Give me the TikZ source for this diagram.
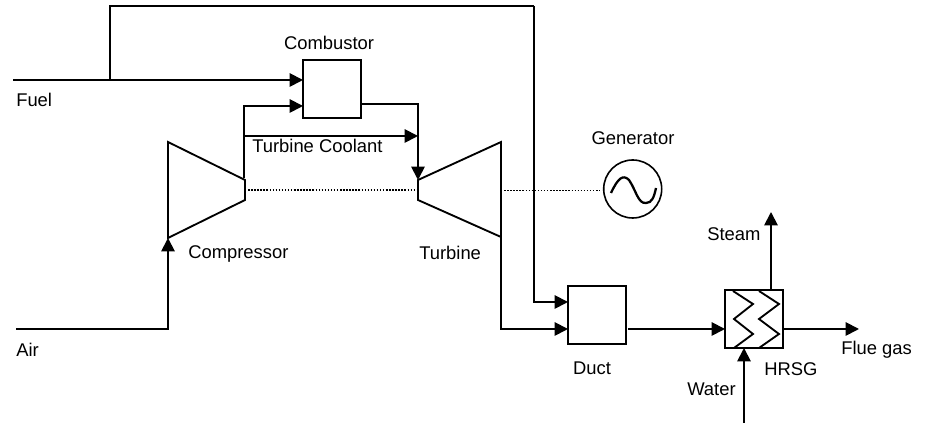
\documentclass[tikz,border=0pt]{standalone}
\usepackage{xcolor}
\usepackage{fontspec}
\setmainfont{Liberation Sans}
\usetikzlibrary{arrows.meta,positioning,calc}
\tikzset{
  unitbox/.style={draw, line width=1.4pt, minimum size=43.5pt, inner sep=0pt, outer sep=0pt},
  flow/.style={line width=1.4pt, -{Triangle[length=10pt,width=10pt]}},
  pipe/.style={line width=1.4pt},
  shaft/.style={line width=1pt, dash pattern=on 1.1pt off 1.2pt},
  lbl/.style={font=\fontsize{13.8pt}{15pt}\selectfont, inner sep=0pt},
}
\begin{document}
\begin{tikzpicture}[x=0.75pt,y=-0.75pt]
\useasboundingbox (0,0) rectangle (925,423);
\fill[white] (0,0) rectangle (925,423);
\node[unitbox] (combustor) at (332,89) {};
\node[unitbox] (duct) at (597,315) {};
\node[unitbox] (hrsg) at (754,319) {};
\node[draw, circle, line width=1.2pt, minimum size=43.5pt, inner sep=0pt, outer sep=0pt] (generator) at (632.7,189) {};
\coordinate (fuelin) at (13,80);
\coordinate (fueltap) at (110,80);
\coordinate (airin) at (16,329);
\coordinate (topleft) at (110,6);
\coordinate (topright) at (534,6);
\coordinate (compin) at (168,238);
\coordinate (compout) at (244,178);
\coordinate (airtap) at (244,136);
\coordinate (turbin) at (418,180);
\coordinate (turbout) at (501,237);
\coordinate (steamout) at (771,212);
\coordinate (waterin) at (744,423);
\coordinate (fluegas) at (859,329);
\coordinate (ductout) at (628,329);
\coordinate (shaftend) at (600,190.5);
\draw[pipe] (168,142) -- (245,180) -- (245,200) -- (168,238) -- cycle;
\draw[pipe] (418,180) -- (501,142) -- (501,237) -- (418,200) -- cycle;
\draw[shaft] (245,190) -- (418,190);
\draw[shaft] (501,190.5) -- (shaftend);
\draw[line width=1.7pt] (611,193) .. controls (618,178) and (623,174) .. (629,180) .. controls (636,190) and (638,204) .. (646,203) .. controls (652,203) and (654,197) .. (656,188);
\draw[pipe] (733,291) -- (753,304) -- (734,319) -- (753,334) -- (734,348);
\draw[pipe] (759,291) -- (779,304) -- (759,319) -- (779,334) -- (759,348);
\draw[flow] (fuelin) -- (combustor.west |- fuelin);
\draw[pipe] (fueltap) -- (topleft) -- (topright);
\draw[flow] (topright) |- (duct.west |- 0,302);
\draw[flow] (compout) |- (combustor.west |- 0,106);
\draw[flow] (airtap) -- (418,136);
\draw[flow] (combustor.east |- 0,104) -| (turbin);
\draw[flow] (airin) -| (compin);
\draw[flow] (turbout) |- (duct.west |- 0,329);
\draw[flow] (ductout) -- (hrsg.west |- ductout);
\draw[flow] (hrsg.east |- fluegas) -- (fluegas);
\draw[flow] (steamout |- hrsg.north) -- (steamout);
\draw[flow] (waterin) -- (waterin |- hrsg.south);
\node[lbl, anchor=west] (fuellabel) at (16,100) {Fuel};
\node[lbl] (combustorlabel) at (329,43) {Combustor};
\node[lbl, anchor=west] (coolantlabel) at (252,146) {Turbine Coolant};
\node[lbl, anchor=west] (compressorlabel) at (188,254) {Compressor};
\node[lbl, anchor=west] (turbinelabel) at (419,253) {Turbine};
\node[lbl] (generatorlabel) at (633,138) {Generator};
\node[lbl, anchor=west] (airlabel) at (16,350) {Air};
\node[lbl] (ductlabel) at (592,368) {Duct};
\node[lbl, anchor=west] (steamlabel) at (707,234) {Steam};
\node[lbl, anchor=west] (waterlabel) at (687,389) {Water};
\node[lbl, anchor=west] (hrsglabel) at (764,369) {HRSG};
\node[lbl, anchor=west] (fluelabel) at (841,350) {Flue gas};
\end{tikzpicture}
\end{document}
